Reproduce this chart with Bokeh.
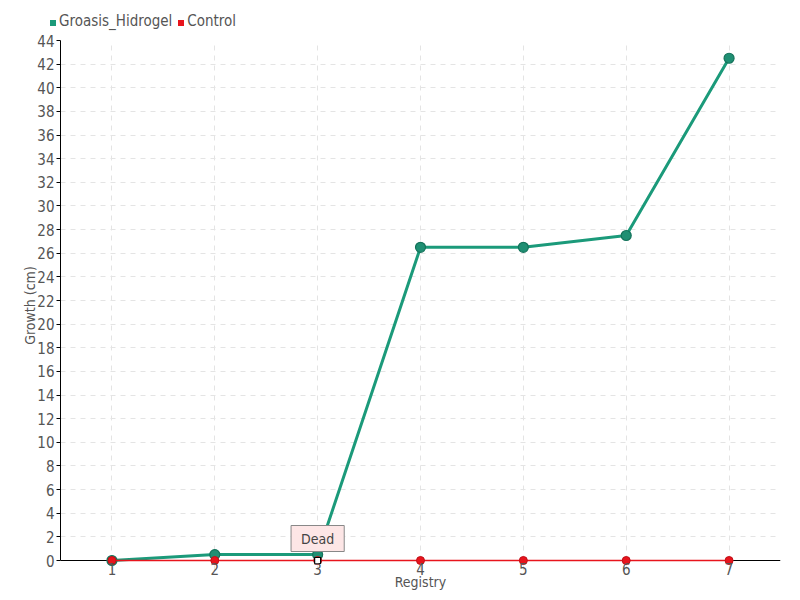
from bokeh.plotting import figure
from bokeh.layouts import column
from bokeh.models import (FixedTicker, Range1d, Label, ColumnDataSource, Span, Div)
from bokeh.embed import file_html
from bokeh.resources import INLINE

registry = [1, 2, 3, 4, 5, 6, 7]
groasis = [0, 0.5, 0.5, 26.5, 26.5, 27.5, 42.5]
control = [0, 0, 0, 0, 0, 0, 0]
y_ticks = list(range(0, 45, 2))
series_names = ["Groasis_Hidrogel", "Control"]
note_x = 3
note_y = 0
note_text = "Dead"

FONT = "DejaVu Sans Condensed, DejaVu Sans, sans-serif"
TEAL = "#1b9a7a"
TEAL_DARK = "#14735b"
RED = "#e8141c"
GREY = "#555555"
series_colors = [TEAL, RED]

# ---- legend strip ----
items = "".join(
    f'<span style="display:inline-block;width:6px;height:6px;background:{c};margin-right:3px;'
    f'margin-left:{0 if i == 0 else 6}px"></span>{n}'
    for i, (n, c) in enumerate(zip(series_names, series_colors)))
legend_html = (f'<div style="position:absolute;left:50px;top:12px;white-space:nowrap;'
               f'font-family:{FONT};font-size:15px;line-height:18px;color:{GREY}">{items}</div>')
lf = Div(text=legend_html, width=800, height=30, margin=0)

# ---- main chart ----
p = figure(width=800, height=570, output_backend="svg", toolbar_location=None,
           x_range=Range1d(0.5, 7.5), y_range=Range1d(-0.846, 44),
           min_border_left=60, min_border_right=20, min_border_top=10, min_border_bottom=30)
p.outline_line_color = None

for ax in (p.xaxis[0], p.yaxis[0]):
    ax.axis_line_color = "black"
    ax.major_label_text_font = FONT
    ax.major_label_text_color = GREY
    ax.major_label_text_font_size = "15px"
    ax.axis_label_text_font = FONT
    ax.axis_label_text_color = GREY
    ax.axis_label_text_font_size = "14px"
    ax.axis_label_text_font_style = "normal"
    ax.minor_tick_line_color = None

p.xaxis.ticker = FixedTicker(ticks=registry)
p.xaxis.axis_line_color = None
p.xaxis.major_tick_line_color = None
p.xaxis.major_tick_out = 0
p.xaxis.major_tick_in = 0
p.xaxis.major_label_standoff = -8
p.xaxis.axis_label = "Registry"
p.xaxis.axis_label_standoff = -4

p.yaxis.ticker = FixedTicker(ticks=y_ticks)
p.yaxis.bounds = (0, 44)
p.yaxis.major_tick_out = 4
p.yaxis.major_tick_in = 0
p.yaxis.major_label_standoff = 2
p.yaxis.axis_label = "Growth (cm)"
p.yaxis.axis_label_standoff = -4

p.xgrid.grid_line_color = "#e4e4e4"
p.ygrid.grid_line_color = "#e4e4e4"
p.xgrid.grid_line_dash = "5 5"
p.ygrid.grid_line_dash = "5 5"

base = Span(location=0, dimension="width", line_color="black", line_width=1, level="underlay")
p.add_layout(base)

src_g = ColumnDataSource(dict(x=registry, y=groasis))
src_c = ColumnDataSource(dict(x=registry, y=control))

p.line("x", "y", source=src_g, line_color=TEAL, line_width=3)
p.scatter("x", "y", source=src_g, size=10, fill_color="#1f8f73", line_color=TEAL_DARK, line_width=1.2)
p.line("x", "y", source=src_c, line_color=RED, line_width=1.5)
p.scatter("x", "y", source=src_c, size=8, fill_color=RED, line_color="#c01018", line_width=1)

# marked point
p.scatter([note_x], [note_y], marker="square", size=6, fill_color="white", line_color="black", line_width=1.2)
lab = Label(x=note_x, y=note_y, text=note_text, x_units="data", y_units="data",
            y_offset=9, text_align="center", text_baseline="bottom",
            text_font=FONT, text_font_size="14px", text_color="#444444",
            background_fill_color="#fde6e6", border_line_color="#888888",
            border_line_width=1, padding=dict(left=10, right=10, top=5, bottom=5))
p.add_layout(lab)

layout = column(lf, p, spacing=0)
open("out.html", "w").write(file_html(layout, INLINE))
